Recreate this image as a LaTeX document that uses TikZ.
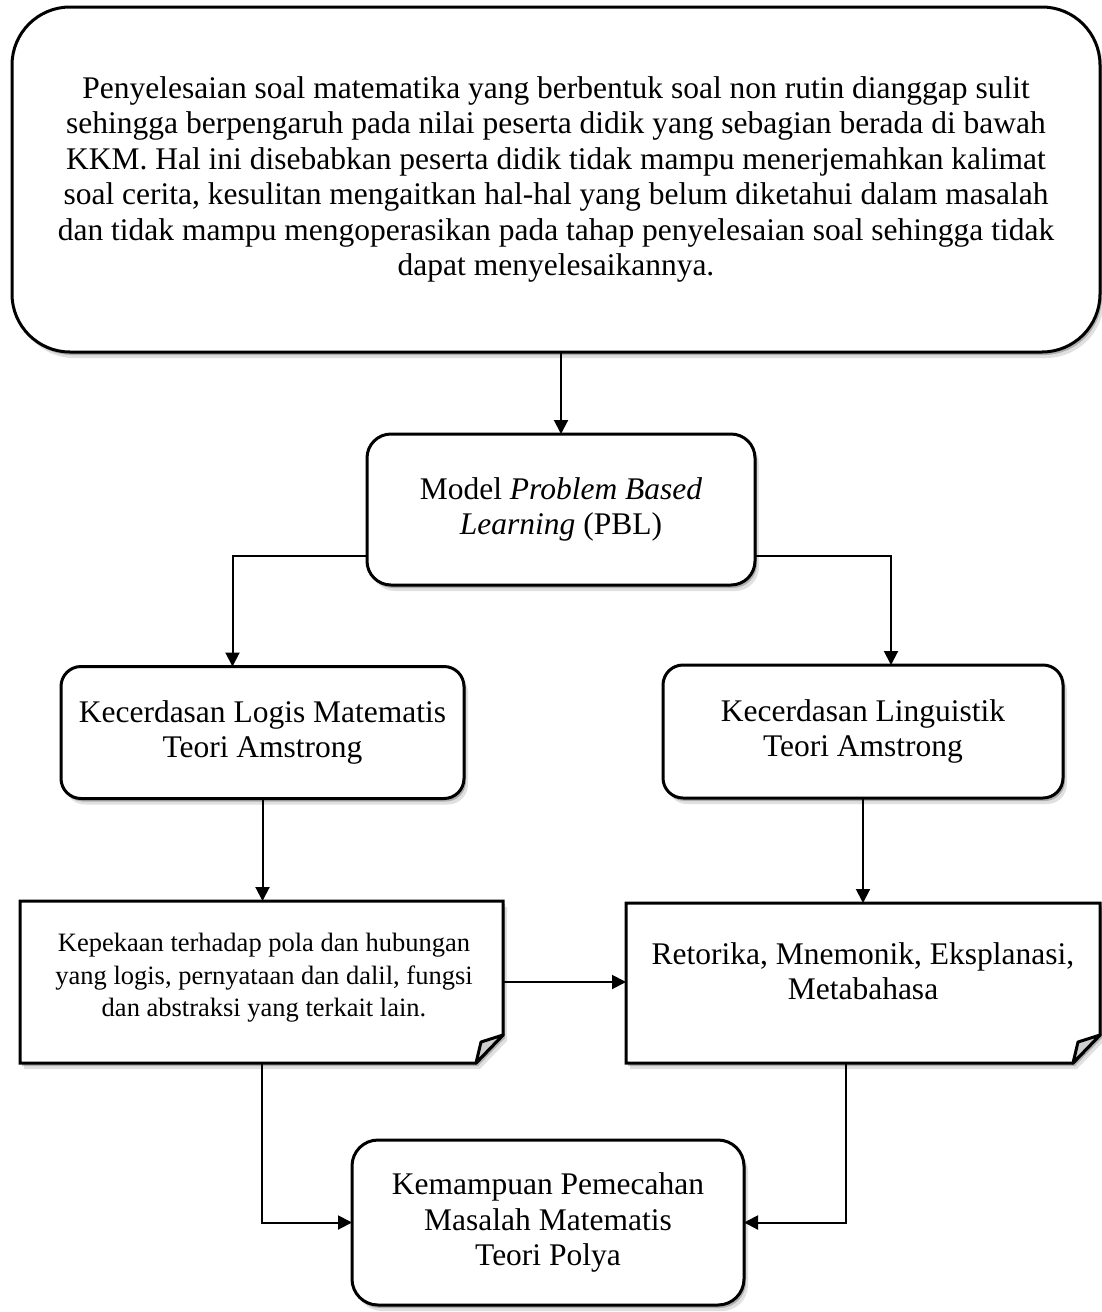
\documentclass[tikz,border=0pt]{standalone}
\usepackage{fontspec}
\setmainfont{Liberation Serif}
\usetikzlibrary{arrows.meta,shadows,calc}
\definecolor{flapgray}{HTML}{CFCFCF}
\newcommand\mainsz{\fontsize{31.5}{35.5}\selectfont}
\newcommand\smallsz{\fontsize{26.5}{32.5}\selectfont}
\newcommand\mynote[1]{%
  \filldraw[noteshape] (#1.north west) -- (#1.north east) -- ($(#1.south east)+(0,-28)$) -- ($(#1.south east)+(-27,0)$) -- (#1.south west) -- cycle;
  \filldraw[flapshape] ($(#1.south east)+(0,-28)$) -- ($(#1.south east)+(-22,-21)$) -- ($(#1.south east)+(-27,0)$) -- cycle;}
\begin{document}
\begin{tikzpicture}[x=1pt,y=-1pt,
  shad/.style={drop shadow={shadow xshift=2pt,shadow yshift=-3pt,opacity=0.22,fill=black},
               drop shadow={shadow xshift=4pt,shadow yshift=-6pt,opacity=0.12,fill=black}},
  rbox/.style={draw,line width=3pt,fill=white,rounded corners=#1,inner sep=0pt,outer sep=0pt,
               align=center,font=\mainsz,shad},
  holder/.style={inner sep=0pt,outer sep=0pt},
  noteshape/.style={draw,line width=3pt,fill=white,line join=miter,shad},
  flapshape/.style={draw,line width=3pt,fill=flapgray,line join=round},
  txt/.style={align=center,inner sep=0pt,outer sep=0pt},
  arr/.style={line width=2pt,-{Triangle[width=14pt,length=14pt]}},
  ln/.style={line width=2pt}]
\useasboundingbox (0,0) rectangle (1102,1312);

% top box
\node[rbox=58pt,minimum width=1088pt,minimum height=345pt] (topbox) at (556,179.5)
 {Penyelesaian soal matematika yang berbentuk soal non rutin dianggap sulit\\
  sehingga berpengaruh pada nilai peserta didik yang sebagian berada di bawah\\
  KKM. Hal ini disebabkan peserta didik tidak mampu menerjemahkan kalimat\\
  soal cerita, kesulitan mengaitkan hal-hal yang belum diketahui dalam masalah\\
  dan tidak mampu mengoperasikan pada tahap penyelesaian soal sehingga tidak\\
  dapat menyelesaikannya.};

% PBL
\node[rbox=24pt,minimum width=388pt,minimum height=151pt] (pbl) at (561,509.5)
 {Model \textit{Problem Based}\\ \textit{Learning} (PBL)};

% second row
\node[rbox=20pt,minimum width=403pt,minimum height=132pt] (logis) at (262.5,732.5)
 {Kecerdasan Logis Matematis\\ Teori Amstrong};
\node[rbox=20pt,minimum width=400pt,minimum height=133pt] (ling) at (863,731.5)
 {Kecerdasan Linguistik\\ Teori Amstrong};

% notes
\node[holder,minimum width=483pt,minimum height=162pt] (n1) at (261.5,982) {};
\mynote{n1}
\node[txt,font=\smallsz] (n1t) at (264,978)
 {Kepekaan terhadap pola dan hubungan\\ yang logis, pernyataan dan dalil, fungsi\\ dan abstraksi yang terkait lain.};

\node[holder,minimum width=474pt,minimum height=160pt] (n2) at (863,983) {};
\mynote{n2}
\node[txt,font=\mainsz] (n2t) at (863,971)
 {Retorika, Mnemonik, Eksplanasi,\\ Metabahasa};

% Polya
\node[rbox=26pt,minimum width=392pt,minimum height=165pt] (polya) at (548,1222.5)
 {Kemampuan Pemecahan\\ Masalah Matematis\\ Teori Polya};

% connectors
\draw[arr] (topbox.south -| pbl.north) -- (pbl.north);
\draw[arr] ([yshift=-46pt]pbl.west) -| ([xshift=-30pt]logis.north);
\draw[arr] ([yshift=-46pt]pbl.east) -| ([xshift=28pt]ling.north);
\draw[arr] (logis.south) -- (logis.south |- n1.north);
\draw[arr] (ling.south) -- (ling.south |- n2.north);
\draw[arr] (n1.east) -- (n1.east -| n2.west);
\draw[arr] (n1.south) |- (polya.west);
\draw[arr] ([xshift=-17pt]n2.south) |- (polya.east);
\end{tikzpicture}
\end{document}
